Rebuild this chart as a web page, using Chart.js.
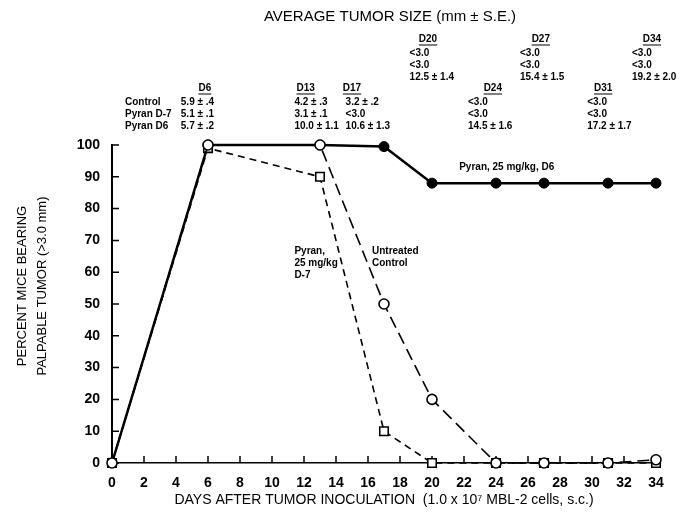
<!DOCTYPE html>
<html>
<head>
<meta charset="utf-8">
<title>Percent mice bearing palpable tumor</title>
<script src="https://cdn.jsdelivr.net/npm/chart.js@4.4.1/dist/chart.umd.min.js"></script>
<style>
    html, body { margin: 0; padding: 0; background: #fff; }
    canvas { display: block; }
</style>
</head>
<body>
<canvas id="tumor-graph" width="691" height="529"></canvas>
<script>
// days after inoculation, % of mice with palpable tumour
var days             = [0, 6, 13, 17, 20, 24, 27, 31, 34];
var untreatedControl = [0, 100, 100, 50, 20, 0, 0, 0, 1];
var pyranD7          = [0, 99, 90, 10, 0, 0, 0, 0, 0];
var pyranD6          = [0, 100, 100, 99.5, 88, 88, 88, 88, 88];

// average tumour size table (mm ± S.E.)
var tableDays    = [6, 13, 17, 20, 24, 27, 31, 34];
var tableRows    = ['Control', 'Pyran D-7', 'Pyran D6'];
var sizeControl  = ['5.9 ± .4', '4.2 ± .3', '3.2 ± .2', '<3.0', '<3.0', '<3.0', '<3.0', '<3.0'];
var sizePyranD7  = ['5.1 ± .1', '3.1 ± .1', '<3.0', '<3.0', '<3.0', '<3.0', '<3.0', '<3.0'];
var sizePyranD6  = ['5.7 ± .2', '10.0 ± 1.1', '10.6 ± 1.3', '12.5 ± 1.4', '14.5 ± 1.6', '15.4 ± 1.5', '17.2 ± 1.7', '19.2 ± 2.0'];

;(function () {
    'use strict';

    var FONT = "'Liberation Sans', Arial, Helvetica, sans-serif";
    var INK  = '#000';

    // table column placement in day units: header centre, left edge of values
    var headAt    = [5.8, 12.1, 15.0, 19.75, 23.8, 26.8, 30.7, 33.75];
    var valueAt   = [4.3, 11.4, 14.6, 18.6, 22.25, 25.5, 29.7, 32.5];
    var colRaised = [false, false, false, true, false, true, false, true];

    var notes = [
        { lines: ['Pyran, 25 mg/kg, D6'],           day: 21.7, pct: 93 },
        { lines: ['Pyran,', '25 mg/kg', 'D-7'],     day: 11.4, pct: 66.5 },
        { lines: ['Untreated', 'Control'],          day: 16.25, pct: 66.5 }
    ];

    function pts(values) {
        return days.map(function (d, i) { return { x: d, y: values[i] }; });
    }

    var extras = {
        id: 'extras',
        beforeDatasetsDraw: function (chart) {
            var ctx = chart.ctx, x = chart.scales.x, y = chart.scales.y;
            ctx.save();
            ctx.strokeStyle = INK;
            ctx.lineWidth = 1.5;
            ctx.beginPath();
            y.ticks.forEach(function (t) {
                var py = y.getPixelForValue(t.value);
                ctx.moveTo(x.left, py);
                ctx.lineTo(x.left + 7, py);
            });
            x.ticks.forEach(function (t) {
                if (t.value === 0) return;
                var px = x.getPixelForValue(t.value);
                ctx.moveTo(px, y.bottom);
                ctx.lineTo(px, y.bottom - 7);
            });
            ctx.stroke();
            ctx.restore();
        },
        afterDraw: function (chart) {
            var ctx = chart.ctx, x = chart.scales.x, y = chart.scales.y;
            ctx.save();
            ctx.fillStyle = INK;
            ctx.strokeStyle = INK;

            // heading
            ctx.font = '15px ' + FONT;
            ctx.textAlign = 'center';
            ctx.textBaseline = 'middle';
            ctx.fillText('AVERAGE TUMOR SIZE (mm ± S.E.)', 390, 17);

            // y axis title, two rotated lines
            ctx.save();
            ctx.font = '13px ' + FONT;
            ctx.translate(22, 286);
            ctx.rotate(-Math.PI / 2);
            ctx.fillText('PERCENT MICE BEARING', 0, 0);
            ctx.fillText('PALPABLE TUMOR (>3.0 mm)', 0, 20);
            ctx.restore();

            // table
            ctx.font = 'bold 10px ' + FONT;
            ctx.textAlign = 'left';
            tableRows.forEach(function (r, i) {
                ctx.fillText(r, 125, 102 + i * 12);
            });
            var cols = [sizeControl, sizePyranD7, sizePyranD6];
            tableDays.forEach(function (d, c) {
                var hx = x.getPixelForValue(headAt[c]);
                var vx = x.getPixelForValue(valueAt[c]);
                var top = colRaised[c] ? 39 : 88;
                var head = 'D' + d;
                ctx.textAlign = 'center';
                ctx.fillText(head, hx, top);
                var w = ctx.measureText(head).width;
                ctx.lineWidth = 1;
                ctx.beginPath();
                ctx.moveTo(hx - w / 2, top + 6);
                ctx.lineTo(hx + w / 2, top + 6);
                ctx.stroke();
                ctx.textAlign = 'left';
                cols.forEach(function (vals, r) {
                    ctx.fillText(vals[c], vx, top + 14 + r * 12);
                });
            });

            // notes inside the plot
            ctx.font = 'bold 10px ' + FONT;
            ctx.textAlign = 'left';
            notes.forEach(function (n) {
                var px = x.getPixelForValue(n.day);
                var py = y.getPixelForValue(n.pct);
                n.lines.forEach(function (l, i) {
                    ctx.fillText(l, px, py + i * 12);
                });
            });
            ctx.restore();
        }
    };

    new Chart(document.getElementById('tumor-graph'), {
        type: 'line',
        data: {
            datasets: [{
                label: 'Untreated Control',
                data: pts(untreatedControl),
                borderColor: INK,
                borderWidth: 1.6,
                borderDash: [12, 6],
                pointStyle: 'circle',
                pointRadius: 5,
                pointBorderWidth: 1.6,
                pointBorderColor: INK,
                pointBackgroundColor: '#fff',
                clip: false
            }, {
                label: 'Pyran, 25 mg/kg, D-7',
                data: pts(pyranD7),
                borderColor: INK,
                borderWidth: 1.6,
                borderDash: [7, 5],
                pointStyle: 'rect',
                pointRadius: 6,
                pointBorderWidth: 1.6,
                pointBorderColor: INK,
                pointBackgroundColor: '#fff',
                clip: false
            }, {
                label: 'Pyran, 25 mg/kg, D6',
                data: pts(pyranD6),
                borderColor: INK,
                borderWidth: 2.5,
                pointStyle: 'circle',
                pointRadius: days.map(function (d) { return d === 0 ? 0 : 5; }),
                pointBorderWidth: 1,
                pointBorderColor: INK,
                pointBackgroundColor: INK,
                clip: false
            }]
        },
        options: {
            responsive: false,
            animation: false,
            layout: { padding: { left: 0, right: 35, top: 145, bottom: 0 } },
            plugins: {
                legend: { display: false },
                tooltip: { enabled: false },
                title: { display: false }
            },
            scales: {
                x: {
                    type: 'linear',
                    min: 0,
                    max: 34,
                    ticks: {
                        stepSize: 2,
                        color: INK,
                        padding: 12,
                        font: { family: FONT, size: 14, weight: 'bold' }
                    },
                    grid: { drawOnChartArea: false, drawTicks: false },
                    border: { color: INK, width: 1.5 },
                    title: {
                        display: true,
                        text: 'DAYS AFTER TUMOR INOCULATION  (1.0 x 10\u2077 MBL-2 cells, s.c.)',
                        color: INK,
                        font: { family: FONT, size: 14 },
                        padding: { top: 0, bottom: 20 }
                    },
                    afterFit: function (scale) { scale.height = 66; }
                },
                y: {
                    min: 0,
                    max: 100,
                    ticks: {
                        stepSize: 10,
                        color: INK,
                        padding: 12,
                        font: { family: FONT, size: 14, weight: 'bold' }
                    },
                    grid: { drawOnChartArea: false, drawTicks: false },
                    border: { color: INK, width: 2 },
                    afterFit: function (scale) { scale.width = 112; }
                }
            }
        },
        plugins: [extras]
    });
})();
</script>
</body>
</html>
